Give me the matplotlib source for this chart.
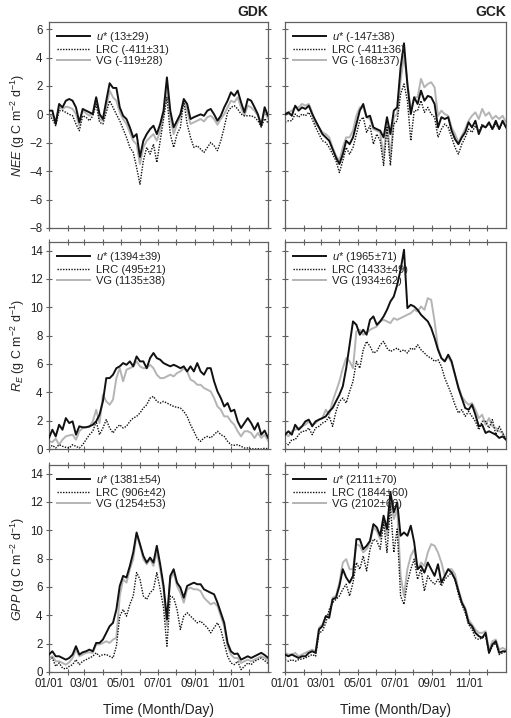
import numpy as np
import matplotlib
matplotlib.use("Agg")
import matplotlib.pyplot as plt

plt.rcParams["font.family"] = ["Liberation Sans", "DejaVu Sans"]
plt.rcParams["mathtext.fontset"] = "custom"
plt.rcParams["mathtext.rm"] = "Liberation Sans"
plt.rcParams["mathtext.it"] = "Liberation Sans:italic"

# day of year grid (values at ~5.6 day steps)
day = np.linspace(0, 365, 66)

# ---- NEE, GDK
nee_gdk_ustar = [0.26, 0.26, -0.68, 0.73, 0.49, 0.96, 1.08, 0.96, 0.49, -0.56, 0.38, 0.26, 0.14, 0.02, 1.2, 0.02,
                 -0.33, 0.96, 2.19, 1.86, 1.86, 0.49, -0.1, -0.33, -0.92, -1.62, -1.39, -3.0, -1.86, -1.39, -1.04, -0.8,
                 -1.39, -0.68, 0.26, 2.6, 0.26, -0.92, -0.45, 0.02, 1.08, 0.73, -0.33, -0.2, -0.1, 0.0, -0.1, 0.26,
                 0.38, 0.0, -0.45, -0.1, 0.49, 0.96, 1.55, 1.3, 1.67, 0.85, 0.14, 1.08, 0.96, 0.5, 0.0, -0.8, 0.5, -0.1]
nee_gdk_lrc = [-0.1, -0.33, -0.8, 0.26, 0.26, 0.14, 0.0, -0.1, -0.68, -1.15, -0.1, -0.2, -0.45, -0.1, 0.7, -0.56,
               -0.68, 0.14, 0.96, 0.49, 0.0, -0.45, -1.04, -1.62, -2.33, -2.68, -3.74, -4.92, -3.27, -2.33, -2.8, -2.1,
               -3.39, -1.86, -0.33, 1.2, -1.39, -2.33, -1.39, -0.92, 0.96, -0.68, -1.62, -2.33, -2.21, -2.45, -2.68,
               -2.33, -1.98, -2.21, -2.56, -1.86, -0.92, 0.14, 0.49, 0.61, 0.38, 0.02, -0.1, -0.1, -0.1, -0.2, -0.45,
               -0.9, -0.3, -0.6]
nee_gdk_vg = [-0.1, -0.1, -0.45, 0.49, 0.38, 0.54, 0.49, 0.38, 0.02, -0.8, 0.26, 0.07, -0.1, 0.14, 1.2, -0.33,
              -0.45, 0.49, 1.67, 1.2, 0.96, 0.14, -0.33, -0.68, -1.27, -1.86, -2.1, -3.5, -2.33, -1.86, -1.62, -1.39,
              -1.86, -1.15, 0.02, 2.0, -0.2, -1.39, -0.68, -0.2, 0.96, 0.26, -0.68, -0.56, -0.45, -0.33, -0.5, -0.2,
              -0.1, -0.33, -0.73, -0.33, 0.02, 0.49, 0.96, 0.85, 1.2, 0.49, -0.1, 0.61, 0.49, 0.26, -0.1, -0.7, 0.2,
              -0.3]

# ---- NEE, GCK
nee_gck_ustar = [0.0, 0.14, -0.1, 0.61, 0.26, 0.49, 0.38, 0.61, 0.02, -0.45, -0.92, -1.39, -1.62, -1.86, -2.45,
                 -3.04, -3.5, -2.8, -1.86, -2.1, -1.62, -0.68, 0.26, 0.73, -0.2, -0.1, -0.92, -1.04, -1.15, -1.62, -0.2,
                 -1.39, 0.26, 0.49, 3.3, 5.0, 2.1, 0.02, 1.2, 0.73, 1.67, 0.96, 1.3, 1.2, 0.73, -0.92, -0.2, -0.33,
                 -0.2, -1.15, -1.74, -2.1, -1.62, -1.27, -0.56, -0.92, -0.45, -1.39, -0.8, -0.92, -0.56, -1.04, -0.45,
                 -1.04, -0.45, -0.92]
nee_gck_lrc = [-0.56, -0.45, -0.45, 0.02, -0.2, 0.02, -0.1, 0.14, -0.33, -0.92, -1.39, -1.86, -1.98, -2.33, -2.8,
               -3.27, -4.1, -3.27, -2.33, -2.8, -2.33, -1.39, -0.45, -0.2, -1.27, -0.8, -2.1, -1.39, -1.86, -3.6, -0.92,
               -3.6, -0.68, -0.45, 1.43, 2.14, 0.96, -1.86, 0.26, 0.26, 0.96, 0.14, 0.49, 0.02, -0.2, -1.62, -1.04,
               -0.68, -0.92, -1.62, -2.33, -2.8, -2.1, -1.62, -1.04, -1.27, -0.8, -1.27, -0.68, -0.92, -0.68, -1.04,
               -0.68, -1.04, -0.56, -0.8]
nee_gck_vg = [-0.1, 0.14, 0.26, 0.49, 0.49, 0.73, 0.61, 0.73, 0.14, -0.68, -0.92, -1.27, -1.39, -1.62, -2.33, -2.92,
              -3.27, -2.33, -1.62, -1.62, -1.15, -0.1, 0.49, 0.49, -0.2, -0.33, -1.04, -1.15, -1.27, -3.04, -0.45,
              -3.04, -0.2, 0.02, 2.38, 4.14, 2.26, 0.26, 1.2, 1.2, 2.5, 1.9, 2.14, 2.26, 1.9, -0.1, 0.26, 0.02, -0.1,
              -0.92, -1.39, -1.98, -1.5, -1.04, -0.45, -0.1, 0.14, -0.33, 0.38, -0.1, 0.14, -0.33, -0.1, -0.33, -0.1,
              -0.56]

# ---- RE, GDK
re_gdk_ustar = [0.78, 1.36, 0.89, 1.71, 1.36, 2.18, 1.83, 1.95, 1.01, 1.6, 1.53, 1.53, 1.6, 1.71, 1.95, 2.42, 3.36,
                5.0, 5.0, 5.24, 5.7, 5.83, 6.06, 5.94, 6.18, 5.83, 6.53, 6.18, 6.18, 5.7, 6.41, 6.77, 6.41, 6.3, 6.06,
                5.94, 5.83, 5.94, 5.83, 5.7, 5.83, 5.47, 5.83, 5.47, 6.06, 5.47, 5.24, 5.7, 5.7, 4.77, 4.06, 3.59,
                3.0, 3.24, 2.65, 2.77, 1.95, 1.48, 1.83, 2.18, 1.83, 1.36, 1.83, 1.01, 1.3, 0.8]
re_gdk_lrc = [0.07, 0.26, 0.07, 0.3, 0.19, 0.12, 0.07, 0.3, 0.19, 0.07, 0.3, 0.66, 1.01, 1.25, 1.95, 1.01, 1.48,
              2.07, 1.48, 1.13, 1.48, 1.71, 1.48, 1.6, 1.95, 2.18, 2.3, 2.54, 2.89, 3.12, 3.59, 3.71, 3.36, 3.24, 3.36,
              3.24, 3.12, 3.0, 2.94, 2.89, 2.65, 2.3, 1.71, 1.25, 0.73, 0.54, 0.78, 0.89, 0.78, 1.01, 1.25, 1.01,
              0.89, 0.54, 0.3, 0.26, 0.3, 0.19, 0.07, 0.07, 0.02, 0.0, 0.02, 0.0, 0.05, 0.02]
re_gdk_vg = [0.54, 0.49, 0.73, 0.3, 0.66, 0.89, 0.96, 1.01, 0.66, 1.25, 1.48, 1.55, 1.55, 1.95, 2.77, 1.83, 3.83,
             3.36, 3.12, 3.48, 5.0, 5.7, 4.77, 5.59, 5.7, 5.83, 6.18, 5.83, 5.7, 5.7, 5.94, 5.7, 5.24, 5.0, 5.0, 5.12,
             5.24, 5.12, 5.36, 5.47, 5.7, 5.47, 4.89, 4.77, 4.53, 4.53, 4.3, 4.18, 4.06, 3.59, 3.0, 2.77, 2.3, 2.3,
             1.95, 1.71, 1.25, 0.89, 1.25, 1.25, 1.13, 0.78, 1.13, 0.78, 1.0, 0.6]

# ---- RE, GCK
re_gck_ustar = [1.01, 1.25, 1.01, 1.71, 1.36, 1.6, 1.95, 2.07, 1.6, 1.95, 2.07, 2.18, 2.3, 2.65, 2.89, 3.36, 3.83,
                4.42, 5.7, 7.35, 9.0, 8.76, 8.06, 8.41, 8.06, 9.11, 9.35, 8.76, 9.0, 9.35, 9.82, 10.4, 10.76, 11.58,
                12.64, 14.05, 9.94, 10.17, 10.05, 9.82, 9.47, 9.23, 9.0, 8.53, 7.82, 7.0, 6.41, 6.18, 6.65, 6.18, 5.24,
                4.3, 3.59, 2.89, 2.77, 3.12, 2.42, 1.6, 1.71, 1.13, 1.25, 1.13, 1.01, 0.78, 0.89, 0.66]
re_gck_lrc = [0.42, 0.3, 0.66, 0.66, 1.01, 1.25, 1.25, 1.48, 1.01, 1.48, 1.6, 1.83, 1.95, 2.3, 1.6, 2.65, 3.36, 3.59,
              3.24, 4.06, 4.77, 6.18, 5.7, 7.0, 7.59, 7.24, 6.77, 6.88, 7.35, 7.59, 7.12, 6.88, 7.0, 7.12, 6.88, 7.0,
              6.77, 7.12, 7.0, 7.35, 7.0, 6.77, 6.53, 6.41, 6.18, 6.3, 5.83, 5.0, 4.42, 3.83, 3.12, 2.54, 2.77, 2.3,
              2.65, 2.3, 1.95, 1.36, 1.95, 1.95, 1.48, 2.07, 1.01, 1.6, 1.13, 0.66]
re_gck_vg = [1.13, 0.89, 1.25, 1.36, 1.48, 1.6, 1.71, 1.95, 1.71, 1.83, 2.07, 2.18, 2.77, 2.42, 3.36, 4.06, 4.77,
             5.7, 6.41, 6.18, 5.7, 8.29, 8.41, 8.06, 8.18, 8.41, 8.53, 8.64, 9.0, 9.11, 9.0, 8.88, 9.23, 9.11, 9.23,
             9.35, 9.47, 9.58, 9.82, 9.7, 10.05, 9.82, 10.64, 10.52, 9.0, 7.12, 6.41, 6.18, 6.53, 6.06, 5.24, 4.42,
             3.71, 3.36, 3.12, 3.24, 2.77, 2.18, 2.42, 1.71, 2.18, 1.6, 1.48, 1.25, 1.13, 0.66]

# ---- GPP, GDK
gpp_gdk_ustar = [1.23, 1.46, 1.11, 1.11, 0.99, 0.87, 0.99, 1.23, 1.82, 1.23, 1.39, 1.46, 1.58, 1.46, 2.05, 2.05,
                 2.29, 2.76, 3.23, 3.47, 4.41, 6.07, 6.78, 6.66, 7.48, 8.43, 9.84, 9.02, 8.19, 7.72, 8.07, 7.72, 8.9,
                 7.6, 6.07, 3.71, 6.78, 7.25, 6.3, 5.95, 5.24, 6.07, 6.19, 6.3, 6.19, 6.19, 5.83, 5.71, 5.59, 5.48,
                 4.89, 4.18, 3.47, 2.05, 1.46, 1.27, 1.3, 0.87, 0.99, 1.11, 0.99, 1.11, 1.23, 1.35, 1.2, 1.0]
gpp_gdk_lrc = [0.87, 0.99, 0.4, 0.64, 0.28, 0.21, 0.4, 0.52, 0.87, 0.52, 0.76, 0.87, 0.99, 1.11, 1.35, 1.11, 1.23,
               1.23, 1.11, 0.99, 1.82, 3.94, 4.41, 3.94, 4.77, 5.36, 7.01, 6.54, 5.36, 5.12, 5.59, 5.83, 7.01, 5.83,
               4.53, 1.82, 5.36, 5.24, 4.41, 3.0, 3.94, 4.18, 3.94, 3.71, 3.47, 3.59, 3.35, 3.12, 2.76, 3.12, 3.47, 3.0,
               2.05, 1.11, 0.64, 0.52, 0.76, 0.17, 0.4, 0.64, 0.52, 0.76, 0.87, 0.99, 0.8, 0.6]
gpp_gdk_vg = [0.99, 1.11, 0.76, 0.76, 0.64, 0.52, 0.68, 0.99, 1.58, 1.11, 1.23, 1.35, 1.39, 1.35, 1.94, 1.94, 2.05,
              2.17, 2.05, 2.29, 2.41, 5.36, 6.54, 6.3, 7.25, 7.96, 9.73, 8.9, 7.96, 7.6, 7.96, 7.48, 8.43, 7.25, 5.83,
              3.23, 6.54, 7.01, 6.07, 5.59, 4.89, 5.83, 5.95, 5.83, 5.83, 5.71, 5.24, 5.0, 4.77, 4.89, 4.65, 3.94, 3.23,
              1.82, 1.23, 0.99, 0.99, 0.64, 0.76, 0.87, 0.76, 0.87, 0.99, 1.11, 1.0, 0.8]

# ---- GPP, GCK
gpp_gck_ustar = [1.23, 1.11, 1.23, 1.11, 0.99, 1.11, 1.11, 1.35, 1.46, 1.35, 3.0, 3.23, 3.94, 3.82, 5.12, 5.24, 6.07,
                 7.25, 6.66, 6.3, 6.78, 9.37, 9.37, 8.66, 8.9, 9.25, 10.43, 10.2, 9.61, 11.02, 10.08, 12.68, 11.26,
                 11.97, 9.61, 9.84, 9.61, 10.32, 9.14, 7.25, 7.48, 7.01, 7.72, 7.25, 6.78, 7.6, 6.3, 6.78, 7.25, 7.01,
                 6.54, 5.71, 4.89, 4.41, 3.47, 3.23, 2.76, 2.53, 2.41, 2.76, 1.35, 1.94, 2.17, 1.35, 1.46, 1.46]
gpp_gck_lrc = [0.87, 0.76, 0.87, 0.76, 0.87, 0.92, 0.99, 1.11, 1.23, 1.11, 2.76, 2.88, 3.47, 4.41, 4.89, 5.12, 5.36,
               5.83, 6.19, 5.36, 6.3, 7.72, 7.25, 8.19, 7.13, 8.66, 9.37, 9.25, 8.66, 10.55, 8.43, 11.73, 8.43, 10.08,
               5.36, 4.77, 6.3, 7.25, 7.96, 6.54, 7.25, 5.71, 6.78, 6.42, 6.19, 6.54, 6.07, 6.54, 6.78, 7.01, 6.54,
               5.48, 4.77, 4.18, 3.35, 3.0, 2.41, 2.29, 2.41, 2.53, 1.35, 1.82, 2.05, 1.23, 1.35, 1.46]
gpp_gck_vg = [1.35, 1.23, 1.23, 1.35, 1.11, 1.23, 1.35, 1.46, 1.58, 1.46, 3.12, 3.35, 3.94, 4.06, 5.24, 5.36, 6.3,
              7.72, 7.96, 7.25, 7.25, 9.02, 8.9, 8.43, 8.66, 9.14, 10.2, 9.96, 9.37, 10.79, 9.61, 12.2, 10.79, 11.5,
              6.78, 5.36, 7.25, 8.19, 8.66, 7.25, 7.72, 7.48, 8.43, 9.02, 8.9, 8.43, 7.72, 6.78, 7.25, 7.25, 6.89,
              5.83, 5.0, 4.53, 3.71, 3.35, 3.0, 2.76, 2.76, 2.88, 1.58, 2.17, 2.29, 1.58, 1.7, 1.58]

sites = ["GDK", "GCK"]
legend_vals = {
    ("nee", "GDK"): ["13±29", "-411±31", "-119±28"],
    ("nee", "GCK"): ["-147±38", "-411±36", "-168±37"],
    ("re", "GDK"): ["1394±39", "495±21", "1135±38"],
    ("re", "GCK"): ["1965±71", "1433±49", "1934±62"],
    ("gpp", "GDK"): ["1381±54", "906±42", "1254±53"],
    ("gpp", "GCK"): ["2111±70", "1844±60", "2102±66"],
}
series = {
    ("nee", "GDK"): (nee_gdk_ustar, nee_gdk_lrc, nee_gdk_vg),
    ("nee", "GCK"): (nee_gck_ustar, nee_gck_lrc, nee_gck_vg),
    ("re", "GDK"): (re_gdk_ustar, re_gdk_lrc, re_gdk_vg),
    ("re", "GCK"): (re_gck_ustar, re_gck_lrc, re_gck_vg),
    ("gpp", "GDK"): (gpp_gdk_ustar, gpp_gdk_lrc, gpp_gdk_vg),
    ("gpp", "GCK"): (gpp_gck_ustar, gpp_gck_lrc, gpp_gck_vg),
}
ylabels = {
    "nee": r"$NEE$ (g C m$^{-2}$ d$^{-1}$)",
    "re": r"$R_E$ (g C m$^{-2}$ d$^{-1}$)",
    "gpp": r"$GPP$ (g C m$^{-2}$ d$^{-1}$)",
}
month_starts = [0, 31, 59, 90, 120, 151, 181, 212, 243, 273, 304, 334]
month_labels = ["01/01", "", "03/01", "", "05/01", "", "07/01", "", "09/01", "", "11/01", ""]

W, H = 511, 718
fig = plt.figure(figsize=(W / 100, H / 100), dpi=100)

col_x = [(49, 268), (285, 506)]
row_y = [(22, 228), (242, 449), (465, 672)]
rows = ["nee", "re", "gpp"]
ylims = {"nee": (-8, 6.5), "re": (0, 14.6), "gpp": (0, 14.6)}
yticks = {"nee": np.arange(-8, 7, 2), "re": np.arange(0, 15, 2), "gpp": np.arange(0, 15, 2)}

spine_c = "#606060"
text_c = "#222222"

for r, var in enumerate(rows):
    for c, site in enumerate(sites):
        x0, x1 = col_x[c]
        y0, y1 = row_y[r]
        ax = fig.add_axes([x0 / W, 1 - y1 / H, (x1 - x0) / W, (y1 - y0) / H])
        us, lrc, vg = series[(var, site)]
        lv = legend_vals[(var, site)]
        ax.plot(day, us, color="#111111", lw=1.4, label=r"$u$* (" + lv[0] + ")", zorder=3)
        ax.plot(day, lrc, color="#111111", lw=1.0, ls=(0, (1, 1)), label="LRC (" + lv[1] + ")", zorder=2)
        ax.plot(day, vg, color="#b4b4b4", lw=1.4, label="VG (" + lv[2] + ")", zorder=1)
        ax.set_xlim(0, 365)
        ax.set_ylim(*ylims[var])
        ax.set_yticks(yticks[var])
        ax.set_xticks(month_starts)
        for s in ax.spines.values():
            s.set_color(spine_c)
            s.set_linewidth(0.9)
        ax.tick_params(direction="inout", length=5, width=0.8, color=spine_c,
                       labelsize=8.3, labelcolor=text_c, pad=2,
                       top=(r > 0), right=(c == 0))
        if r == 2:
            ax.set_xticklabels(month_labels)
            ax.set_xlabel("Time (Month/Day)", fontsize=10, color=text_c, labelpad=9)
        else:
            ax.set_xticklabels([])
        if c == 0:
            ax.set_ylabel(ylabels[var], fontsize=9, color=text_c, labelpad=2)
        else:
            ax.set_yticklabels([])
        if r == 0:
            ax.set_title(site, loc="right", fontsize=10, fontweight="bold", color=text_c, pad=4)
        leg = ax.legend(loc="upper left", frameon=False, fontsize=8, handlelength=3.0,
                        handletextpad=0.5, labelspacing=0.1, borderaxespad=0.3)
        for t in leg.get_texts():
            t.set_color(text_c)

fig.savefig("out.png", dpi=100)
